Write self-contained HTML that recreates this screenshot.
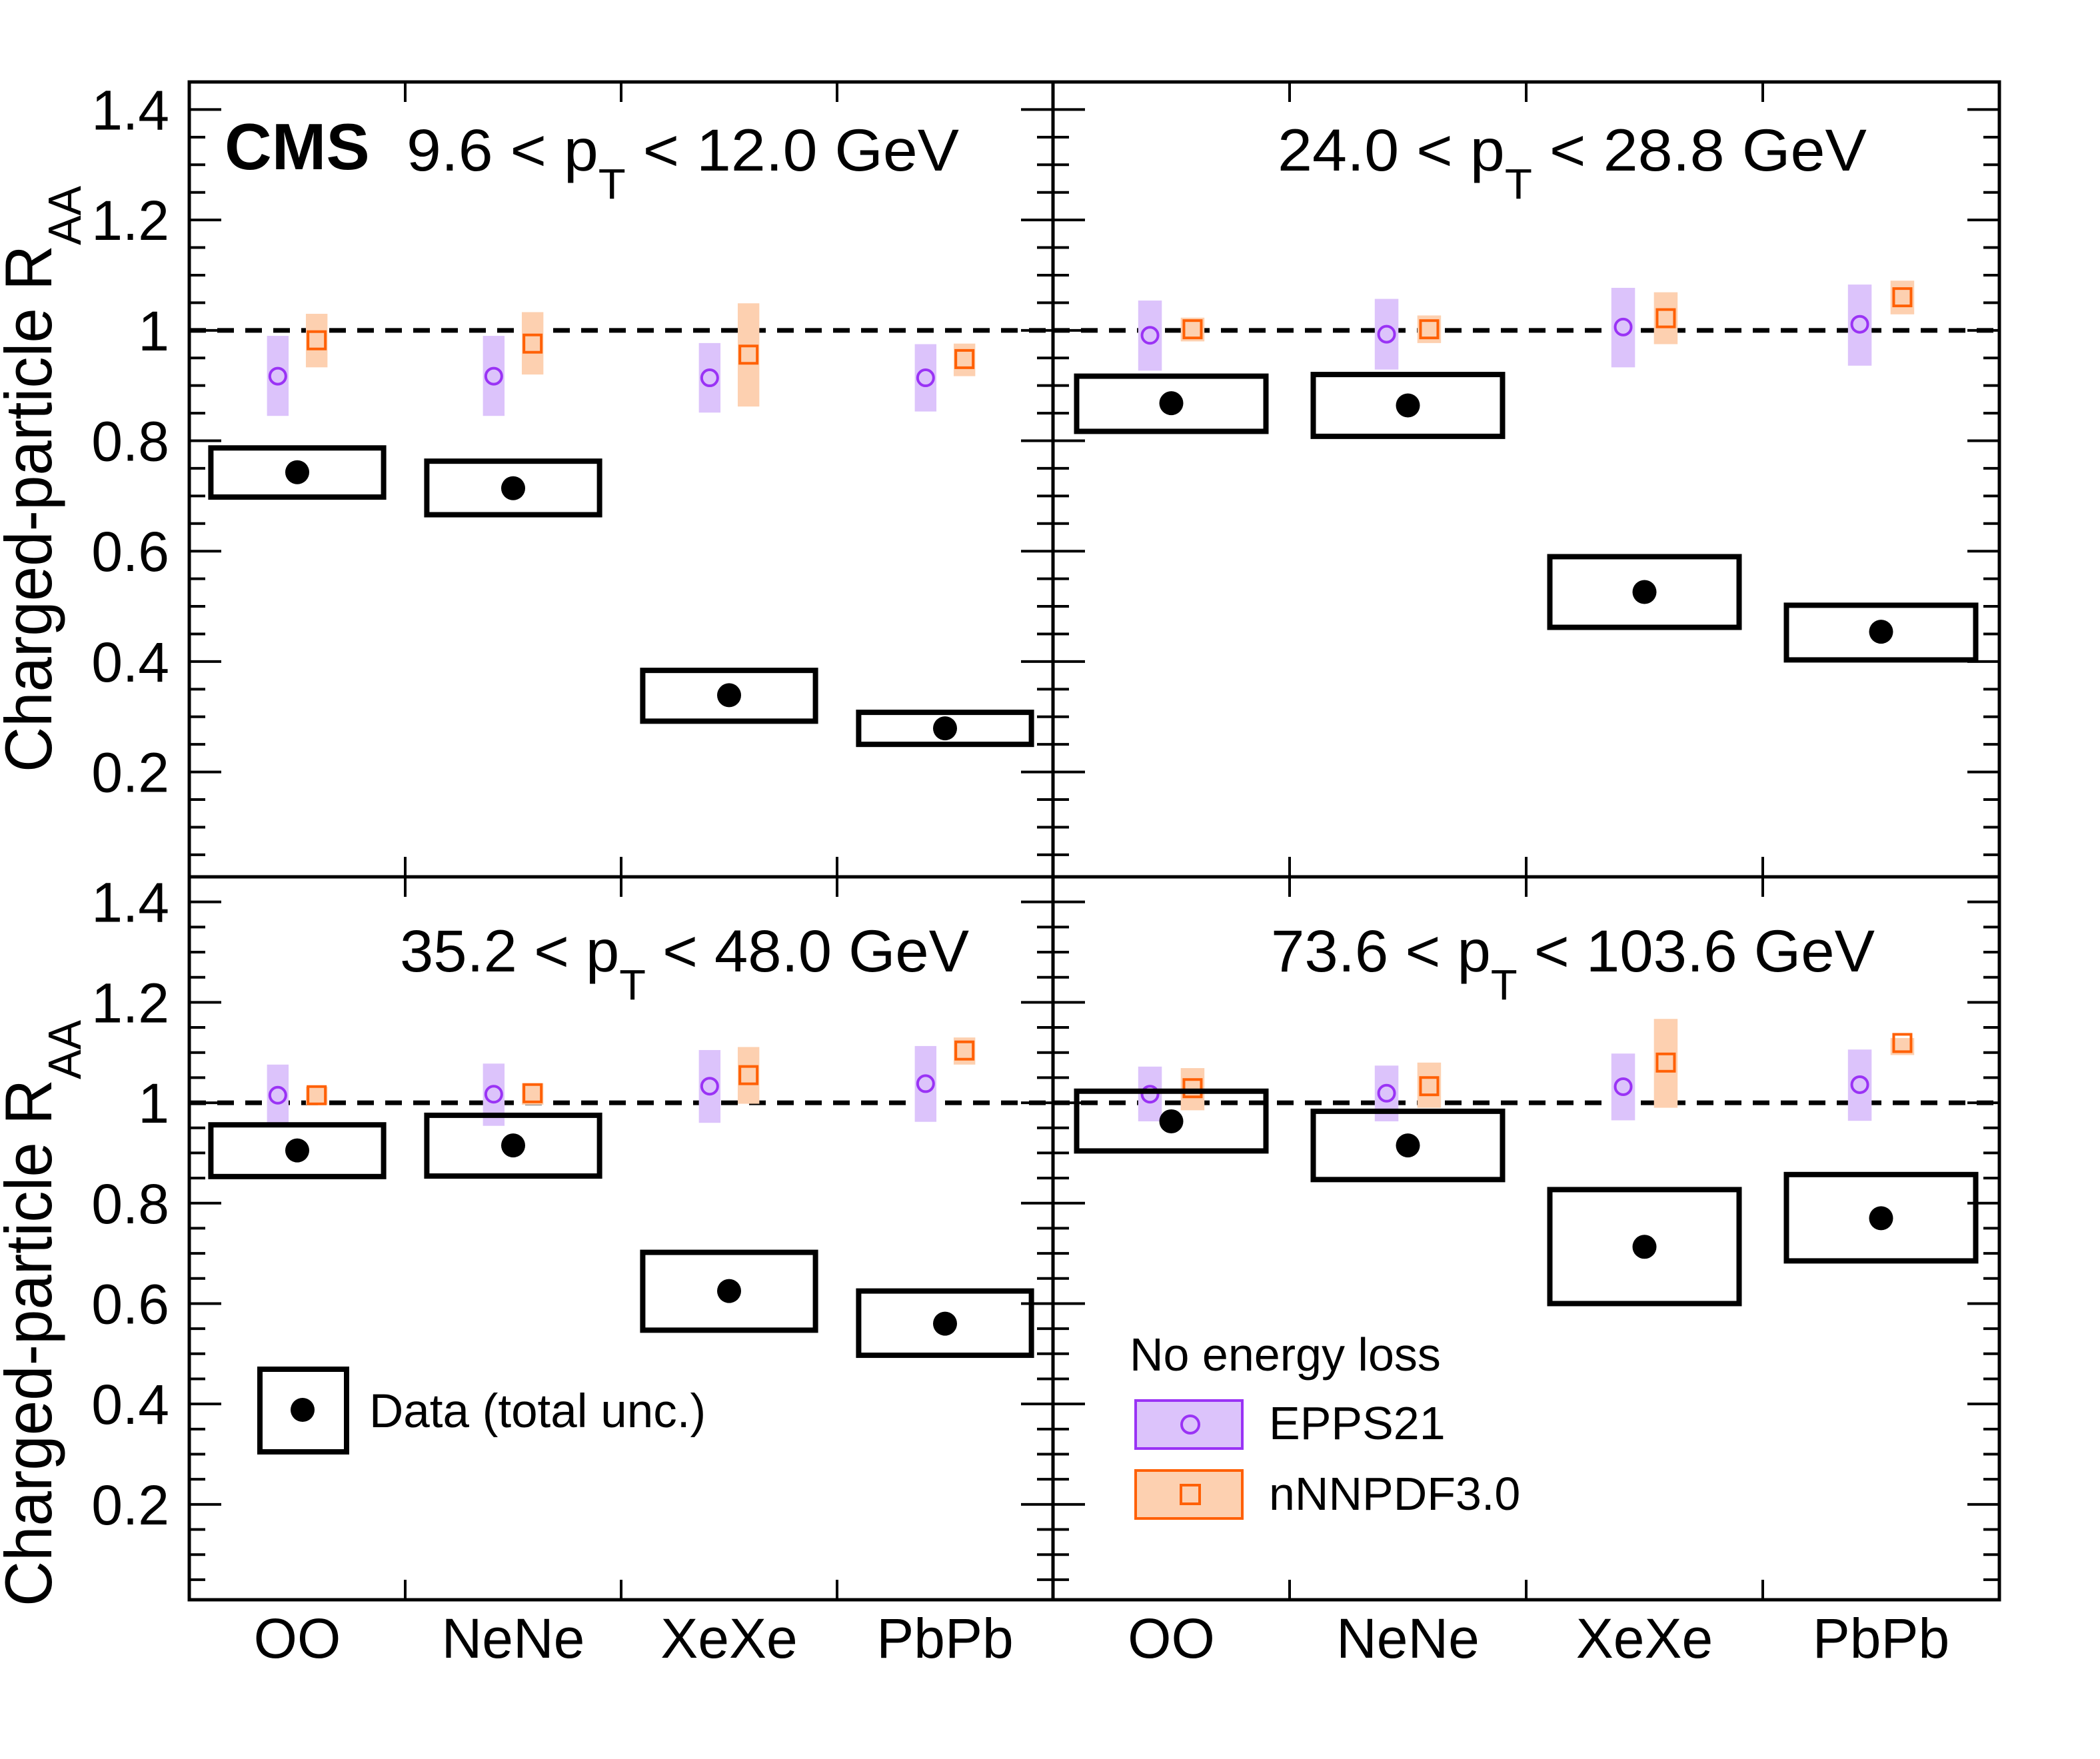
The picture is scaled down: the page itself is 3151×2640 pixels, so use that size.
<!DOCTYPE html>
<html><head><meta charset="utf-8">
<style>
html,body{margin:0;padding:0;background:#fff;}
svg{display:block;font-family:"Liberation Sans",Arial,sans-serif;}
</style></head>
<body>
<svg id="chart" xmlns="http://www.w3.org/2000/svg" width="3151" height="2640" viewBox="0 0 3151 2640">
<rect x="0" y="0" width="3151" height="2640" fill="#fff"/>
</svg>
<script>
const categories = ["OO","NeNe","XeXe","PbPb"];
const panelTitles = [["9.6","12.0"],["24.0","28.8"],["35.2","48.0"],["73.6","103.6"]];
const yTickLabels = [0.2,0.4,0.6,0.8,1,1.2,1.4];
const dataVal = [[0.743,0.714,0.339,0.279],[0.868,0.864,0.526,0.454],[0.905,0.915,0.625,0.560],[0.963,0.915,0.713,0.770]];
const dataLo  = [[0.698,0.666,0.292,0.250],[0.817,0.808,0.462,0.403],[0.853,0.854,0.547,0.497],[0.904,0.847,0.600,0.685]];
const dataHi  = [[0.787,0.763,0.384,0.308],[0.917,0.920,0.590,0.502],[0.956,0.975,0.702,0.625],[1.023,0.983,0.827,0.857]];
const eppsVal = [[0.917,0.917,0.914,0.914],[0.991,0.993,1.006,1.011],[1.015,1.017,1.033,1.038],[1.017,1.019,1.032,1.036]];
const eppsLo  = [[0.845,0.845,0.851,0.853],[0.927,0.929,0.933,0.936],[0.960,0.954,0.960,0.962],[0.963,0.963,0.965,0.964]];
const eppsHi  = [[0.990,0.990,0.977,0.975],[1.054,1.057,1.077,1.083],[1.076,1.078,1.105,1.113],[1.072,1.074,1.098,1.106]];
const nnpdfVal = [[0.982,0.976,0.956,0.948],[1.002,1.002,1.022,1.060],[1.015,1.019,1.055,1.104],[1.029,1.033,1.080,1.119]];
const nnpdfLo  = [[0.933,0.920,0.862,0.917],[0.980,0.977,0.975,1.029],[0.996,0.996,0.998,1.076],[0.985,0.990,0.990,1.095]];
const nnpdfHi  = [[1.030,1.033,1.049,0.976],[1.023,1.027,1.069,1.090],[1.032,1.039,1.111,1.130],[1.069,1.080,1.167,1.129]];

const NS="http://www.w3.org/2000/svg";
const svg=document.getElementById('chart');
function mk(tag,attrs,parent){const e=document.createElementNS(NS,tag);for(const k in attrs)e.setAttribute(k,attrs[k]);(parent||svg).appendChild(e);return e;}
const YMIN=0.01,YMAX=1.45;
const panels=[{x0:284,x1:1580,y0:123,y1:1316},{x0:1580,x1:3000,y0:123,y1:1316},{x0:284,x1:1580,y0:1316,y1:2401},{x0:1580,x1:3000,y0:1316,y1:2401}];
const titleX=[[610,1439],[1917,2801],[600,1454],[1907,2813]];
const titleY=[256,256,1458,1458];

panels.forEach((p,pi)=>{
  const g=mk('g',{});
  
  
  const ys=v=>p.y1-(v-YMIN)/(YMAX-YMIN)*(p.y1-p.y0);
  const bw=(p.x1-p.x0)/categories.length;
  const xs=i=>p.x0+(i+0.5)*bw;
  // ticks
  for(let k=1;k<=29;k++){const v=k*0.05;if(v<YMIN||v>YMAX-0.001)continue;
    const major=(k%4===0);const L=major?48:24;const y=ys(v);
    const t1=mk('line',{x1:p.x0,x2:p.x0+L,y1:y,y2:y,stroke:'#000','stroke-width':4},g);
    
    
    const t2=mk('line',{x1:p.x1,x2:p.x1-L,y1:y,y2:y,stroke:'#000','stroke-width':4},g);
    
    
  }
  for(let i=1;i<categories.length;i++){const x=p.x0+i*bw;
    const a=mk('line',{x1:x,x2:x,y1:p.y1,y2:p.y1-30,stroke:'#000','stroke-width':4},g);
    
    
    const b=mk('line',{x1:x,x2:x,y1:p.y0,y2:p.y0+30,stroke:'#000','stroke-width':4},g);
    
    
  }
  // dashed line at 1
  const dl=mk('line',{x1:p.x0,x2:p.x1,y1:ys(1),y2:ys(1),stroke:'#000','stroke-width':7,'stroke-dasharray':'25 17'},g);
  
  
  categories.forEach((c,i)=>{
    const cx=xs(i);
    // EPPS band
    const eb=mk('rect',{x:cx-0.09*bw-0.05*bw,y:ys(eppsHi[pi][i]),width:0.1*bw,height:ys(eppsLo[pi][i])-ys(eppsHi[pi][i]),fill:'#dcc3fb'},g);
    
    
    const nb=mk('rect',{x:cx+0.09*bw-0.05*bw,y:ys(nnpdfHi[pi][i]),width:0.1*bw,height:ys(nnpdfLo[pi][i])-ys(nnpdfHi[pi][i]),fill:'#fdd0b0'},g);
    
    
    const em=mk('circle',{cx:cx-0.09*bw,cy:ys(eppsVal[pi][i]),r:12,fill:'none',stroke:'#9a33f5','stroke-width':4},g);
    
    
    const nm=mk('rect',{x:cx+0.09*bw-13,y:ys(nnpdfVal[pi][i])-13,width:26,height:26,fill:'none',stroke:'#ff6005','stroke-width':4},g);
    
    
    const db=mk('rect',{x:cx-0.4*bw,y:ys(dataHi[pi][i]),width:0.8*bw,height:ys(dataLo[pi][i])-ys(dataHi[pi][i]),fill:'none',stroke:'#000','stroke-width':8},g);
    
    
    const dp=mk('ellipse',{cx:cx,cy:ys(dataVal[pi][i]),rx:18,ry:18,fill:'#000'},g);
    
    
    if(pi>=2){
      const cl=mk('text',{x:cx,y:2488,'font-size':84,'text-anchor':'middle'},g);cl.textContent=c;
      
      
    }
  });
  // frame
  const fr=mk('rect',{x:p.x0,y:p.y0,width:p.x1-p.x0,height:p.y1-p.y0,fill:'none',stroke:'#000','stroke-width':5},g);
  
  
  // y tick labels
  if(pi%2===0){
    yTickLabels.forEach(v=>{
      const t=mk('text',{x:254,y:ys(v)+30,'font-size':84,'text-anchor':'end'},g);t.textContent=String(v);
      
      
    });
    const cy=pi===0?719:1971;
    const yt=mk('text',{x:0,y:0,'font-size':99,'text-anchor':'middle',transform:'translate(77,'+cy+') rotate(-90)',textLength:880,lengthAdjust:'spacingAndGlyphs'},g);
    
    
    const s1=mk('tspan',{},yt);s1.textContent='Charged-particle R';
    const s2=mk('tspan',{dy:44,'font-size':70},yt);s2.textContent='AA';
  }
  // title
  const tt=mk('text',{x:titleX[pi][0],y:titleY[pi],'font-size':89,textLength:titleX[pi][1]-titleX[pi][0],lengthAdjust:'spacingAndGlyphs'},g);
  
  
  const a1=mk('tspan',{},tt);a1.textContent=panelTitles[pi][0]+' < p';
  const a2=mk('tspan',{dy:42,'font-size':64},tt);a2.textContent='T';
  const a3=mk('tspan',{dy:-42},tt);a3.textContent=' < '+panelTitles[pi][1]+' GeV';
});

// CMS label
const cms=mk('text',{x:337,y:254,'font-size':98,'font-weight':'bold'});cms.textContent='CMS';



// data legend
const lg=mk('g',{});


const lb=mk('rect',{x:390,y:2055,width:130,height:124,fill:'none',stroke:'#000','stroke-width':8},lg);


const ld=mk('circle',{cx:454,cy:2116,r:18,fill:'#000'},lg);


const lt=mk('text',{x:554,y:2142,'font-size':71},lg);lt.textContent='Data (total unc.)';



// model legend
const ml=mk('g',{});


const mh=mk('text',{x:1695,y:2057,'font-size':70},ml);mh.textContent='No energy loss';


const e1=mk('rect',{x:1704,y:2102,width:160,height:72,fill:'#dcc3fb',stroke:'#9a33f5','stroke-width':4},ml);


const e2=mk('circle',{cx:1786,cy:2138,r:13,fill:'none',stroke:'#9a33f5','stroke-width':4},ml);


const e3=mk('text',{x:1904,y:2160,'font-size':70},ml);e3.textContent='EPPS21';


const n1=mk('rect',{x:1704,y:2207,width:160,height:72,fill:'#fdd0b0',stroke:'#ff6005','stroke-width':4},ml);


const n2=mk('rect',{x:1772,y:2229,width:28,height:28,fill:'none',stroke:'#ff6005','stroke-width':4},ml);


const n3=mk('text',{x:1904,y:2266,'font-size':70},ml);n3.textContent='nNNPDF3.0';


</script>
</body></html>
